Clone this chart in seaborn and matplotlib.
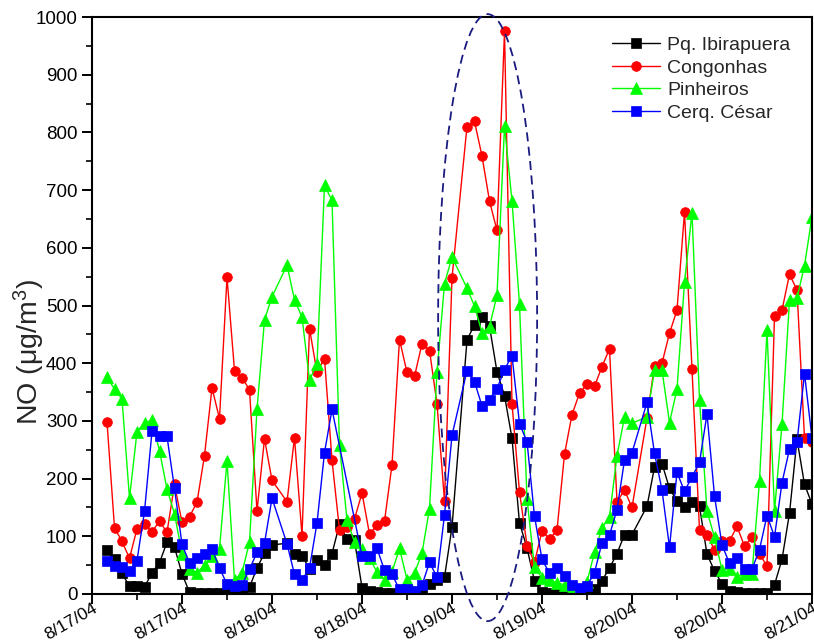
import numpy as np
import pandas as pd
import matplotlib
matplotlib.use("Agg")
import matplotlib.pyplot as plt
import seaborn as sns
from matplotlib.patches import Ellipse
from matplotlib.ticker import MultipleLocator

# ---------------- data ----------------
# hours after 8/17/04 00:00 (hours 25, 49 and 73 have no record)
hours = [h for h in range(2, 97) if h not in (25, 49, 73)]

pq_ibirapuera = [77, 60, 36, 13, 14, 12, 37, 54, 90, 81, 35, 3, 2, 1, 1, 1, 1, 1, 1, 12, 45, 71, 85,
                 88, 69, 66, 44, 59, 50, 70, 121, 95, 93, 11, 5, 3, 2, 1, 1, 1, 1, 3, 18, 24, 29, 116,
                 440, 467, 480, 464, 385, 344, 270, 123, 80, 22, 3, 1, 1, 1, 1, 2, 2, 8, 23, 45, 70, 103, 103,
                 152, 220, 226, 183, 161, 151, 160, 152, 69, 40, 18, 6, 3, 2, 2, 2, 2, 16, 60, 140, 268, 190, 156]

congonhas = [298, 115, 91, 62, 113, 121, 108, 126, 107, 190, 124, 134, 159, 240, 357, 304, 549, 387, 375, 354, 144, 269, 197,
             160, 271, 101, 460, 384, 408, 232, 111, 116, 130, 175, 104, 119, 126, 224, 441, 384, 377, 434, 422, 330, 161, 548,
             810, 819, 759, 681, 630, 975, 330, 177, 84, 55, 109, 95, 111, 242, 311, 348, 364, 360, 394, 425, 160, 180, 150,
             305, 396, 400, 452, 492, 662, 390, 111, 103, 76, 91, 92, 117, 83, 99, 70, 48, 481, 492, 554, 527, 270, 264]

pinheiros = [376, 355, 338, 166, 281, 297, 301, 248, 182, 139, 70, 43, 37, 50, 66, 78, 231, 24, 37, 90, 320, 475, 515,
             570, 510, 480, 371, 398, 708, 682, 258, 128, 90, 78, 62, 38, 25, 38, 79, 25, 36, 71, 148, 384, 538, 584,
             530, 499, 453, 463, 518, 811, 681, 502, 165, 46, 28, 24, 19, 16, 8, 7, 21, 72, 114, 134, 240, 306, 296,
             307, 388, 388, 297, 355, 540, 661, 337, 144, 98, 42, 44, 29, 35, 35, 196, 457, 144, 294, 509, 513, 569, 654]

cerq_cesar = [57, 49, 46, 39, 58, 143, 282, 273, 273, 183, 86, 54, 63, 69, 78, 45, 17, 14, 16, 43, 72, 88, 166,
              87, 34, 24, 45, 123, 245, 320, np.nan, np.nan, np.nan, 66, 66, 79, 41, 34, 8, 8, 6, 15, 55, 29, 137, 275,
              387, 368, 326, 337, 356, 389, 413, 295, 264, 135, 60, 36, 45, 31, 15, 10, 14, 37, 89, 102, 146, 232, 245,
              332, 244, 180, 81, 211, 178, 203, 228, 312, 170, 85, 53, 62, 44, 43, 77, 136, 99, 193, 251, 263, 382, 270]

series_names = ["Pq. Ibirapuera", "Congonhas", "Pinheiros", "Cerq. César"]
tick_hours = [0, 12, 24, 36, 48, 60, 72, 84, 96]
tick_labels = ["8/17/04", "8/17/04", "8/18/04", "8/18/04", "8/19/04",
               "8/19/04", "8/20/04", "8/20/04", "8/21/04"]

# ---------------- style ----------------
sns.set_style("ticks")
plt.rcParams['font.family'] = ['Liberation Sans', 'DejaVu Sans']
plt.rcParams['mathtext.fontset'] = 'custom'
plt.rcParams['mathtext.rm'] = 'Liberation Sans'
plt.rcParams['mathtext.it'] = 'Liberation Sans:italic'
plt.rcParams['mathtext.default'] = 'regular'

fig = plt.figure(figsize=(8.14, 6.42), dpi=100)
ax = fig.add_axes([92 / 814, 48 / 642, 720 / 814, 577 / 642])

styles = [("#000000", "s", 6.5), ("#ff0000", "o", 7), ("#00ff00", "^", 8), ("#0000ff", "s", 6.5)]
all_vals = [pq_ibirapuera, congonhas, pinheiros, cerq_cesar]

for name, vals, (col, mk, ms) in zip(series_names, all_vals, styles):
    df = pd.DataFrame({"hour": hours, "NO": vals}).dropna()
    sns.lineplot(data=df, x="hour", y="NO", ax=ax, color=col, marker=mk,
                 markersize=ms, markeredgecolor=col, markeredgewidth=0.5,
                 linewidth=1.0, estimator=None, label=name)

# highlight ellipse
ell = Ellipse((52.75, 479), width=13.2, height=1052, fill=False,
              edgecolor="#1a1a80", linestyle=(0, (5, 3)), linewidth=1.3,
              clip_on=False, zorder=5)
ax.add_patch(ell)

ax.set_xlim(0, 96)
ax.set_ylim(0, 1000)
ax.set_xticks(tick_hours)
ax.set_xticklabels(tick_labels, rotation=30, ha="right", va="top",
                   rotation_mode="anchor")
ax.xaxis.set_minor_locator(MultipleLocator(6))
ax.yaxis.set_major_locator(MultipleLocator(100))
ax.yaxis.set_minor_locator(MultipleLocator(50))
ax.tick_params(which="major", direction="out", length=7, width=1.4,
               color="black", labelcolor="black")
ax.tick_params(which="minor", direction="out", length=4, width=1.2, color="black")
ax.tick_params(axis="y", labelsize=13.5)
ax.tick_params(axis="x", labelsize=12.5, pad=-2)

for sp in ax.spines.values():
    sp.set_linewidth(1.5)
    sp.set_color("black")

ax.set_xlabel("")
ax.set_ylabel("NO (μg/m$^{3}$)", fontsize=20.5)
ax.yaxis.set_label_coords(-0.063, 0.42)

leg = ax.legend(loc="upper left", bbox_to_anchor=(0.711, 0.98), frameon=False,
                fontsize=14, handlelength=2.5, labelspacing=0.26,
                handletextpad=0.36, borderaxespad=0)

fig.savefig("out.png", dpi=100)
